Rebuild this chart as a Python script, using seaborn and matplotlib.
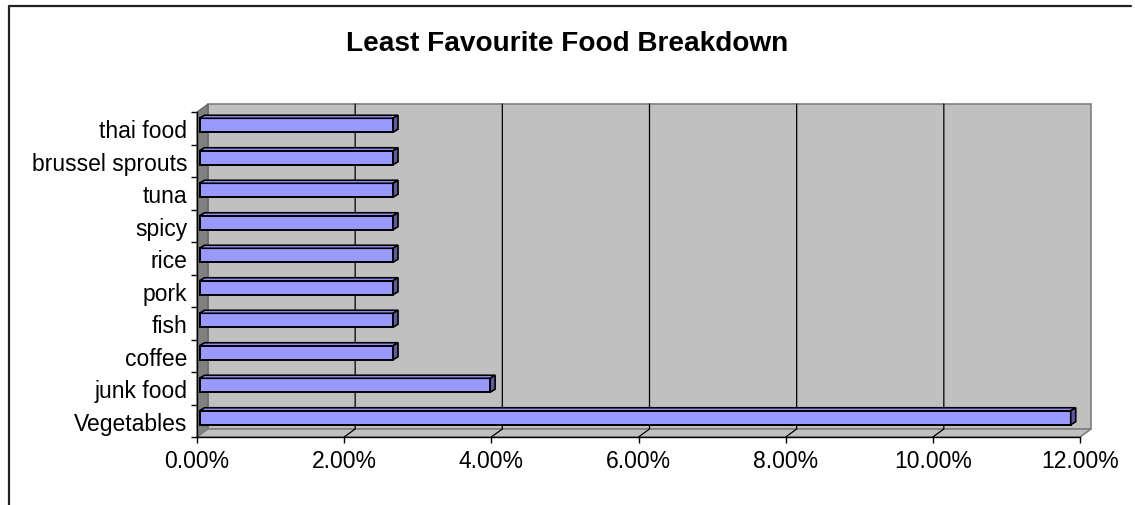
import numpy as np
import pandas as pd
import seaborn as sns
import matplotlib.pyplot as plt
from matplotlib.patches import Polygon
from matplotlib.lines import Line2D

# data (share of answers, in percent)
foods = ['thai food', 'brussel sprouts', 'tuna', 'spicy', 'rice', 'pork',
         'fish', 'coffee', 'junk food', 'Vegetables']
shares = [2.63, 2.63, 2.63, 2.63, 2.63, 2.63, 2.63, 2.63, 3.95, 11.84]
xticks = [0, 2, 4, 6, 8, 10, 12]
xticklabels = ['0.00%', '2.00%', '4.00%', '6.00%', '8.00%', '10.00%', '12.00%']
title = 'Least Favourite Food Breakdown'

df = pd.DataFrame({'food': foods, 'share': shares})

sns.set_theme(style='white')
plt.rcParams['font.family'] = ['Liberation Sans', 'DejaVu Sans']
plt.rcParams['text.color'] = 'black'
plt.rcParams['xtick.color'] = 'black'
plt.rcParams['ytick.color'] = 'black'

W, H = 1135, 506
fig = plt.figure(figsize=(W / 100, H / 100), dpi=100)

# front plane of the fake 3d box, in pixels
fx0, fx1, fy0, fy1 = 197, 1080, 113, 438
ax = fig.add_axes([fx0 / W, 1 - fy1 / H, (fx1 - fx0) / W, (fy1 - fy0) / H])
ax.patch.set_visible(False)

sns.barplot(data=df, x='share', y='food', orient='h', color='#9999ff',
            saturation=1, edgecolor='black', linewidth=1.4, width=0.43, ax=ax)
bars = list(ax.patches)

xmax = xticks[-1]
n = len(foods)
ax.set_xlim(0, xmax)
ax.set_ylim(n - 0.5, -0.5)

# pixel -> data offsets (y axis is inverted)
sx = (fx1 - fx0) / xmax
sy = (fy1 - fy0) / n
def off(px, py):
    return px / sx, -py / sy

# walls
dx, dy = off(11, 8)
top, bot = -0.5, n - 0.5
back = Polygon([(dx, top + dy), (xmax + dx, top + dy), (xmax + dx, bot + dy), (dx, bot + dy)],
               fc='#c0c0c0', ec='#808080', lw=1.2, zorder=0.5, clip_on=False)
left = Polygon([(0, top), (dx, top + dy), (dx, bot + dy), (0, bot)],
               fc='#808080', ec='#606060', lw=0.8, zorder=0.6, clip_on=False)
floor = Polygon([(0, bot), (xmax, bot), (xmax + dx, bot + dy), (dx, bot + dy)],
                fc='#c0c0c0', ec='#808080', lw=1.2, zorder=0.6, clip_on=False)
for p in (back, left, floor):
    ax.add_patch(p)

# gridlines on back wall + floor
for t in xticks[1:-1]:
    ax.add_line(Line2D([t + dx, t + dx, t], [top + dy, bot + dy, bot],
                       color='black', lw=0.9, zorder=0.8, clip_on=False))

# shift bars a bit into the box and give them depth
bx, by = off(2.5, 3)
ddx, ddy = off(5, 3)
for p in bars:
    p.set_x(p.get_x() + bx)
    p.set_y(p.get_y() + by)
    p.set_zorder(3)
    x0, y0, w, h = p.get_x(), p.get_y(), p.get_width(), p.get_height()
    ax.add_patch(Polygon([(x0, y0), (x0 + w, y0), (x0 + w + ddx, y0 + ddy), (x0 + ddx, y0 + ddy)],
                         fc='#9999ff', ec='black', lw=1.2, zorder=3, clip_on=False))
    ax.add_patch(Polygon([(x0 + w, y0), (x0 + w + ddx, y0 + ddy), (x0 + w + ddx, y0 + h + ddy), (x0 + w, y0 + h)],
                         fc='#5c5c99', ec='black', lw=1.2, zorder=3, clip_on=False))

# axes, ticks
for s in ['top', 'right']:
    ax.spines[s].set_visible(False)
for s in ['left', 'bottom']:
    ax.spines[s].set_color('black')
    ax.spines[s].set_linewidth(1.0)
    ax.spines[s].set_zorder(2)

ax.set_xticks(xticks, xticklabels)
ax.set_yticks(range(n), foods)
ax.set_yticks(np.arange(-0.5, n, 1), minor=True)
ax.tick_params(axis='x', which='major', direction='out', length=4, width=1,
               color='black', labelcolor='black', pad=5, labelsize=16.5, bottom=True)
ax.tick_params(axis='y', which='major', length=0, pad=7, labelsize=16.5, labelcolor='black')
ax.tick_params(axis='y', which='minor', direction='out', length=4, width=1,
               color='black', left=True)
ax.set_xlabel('')
ax.set_ylabel('')

fig.text(567 / W, 1 - 51 / H, title, ha='center', va='baseline',
         fontsize=20.2, fontweight='bold', color='black')

# chart frame (right and bottom edges are cut off)
fig.add_artist(Line2D([9 / W, 9 / W, 1131 / W], [0, 1 - 7 / H, 1 - 7 / H],
                      transform=fig.transFigure, color='#222222', lw=1.6))

fig.savefig('out.png', dpi=100)
